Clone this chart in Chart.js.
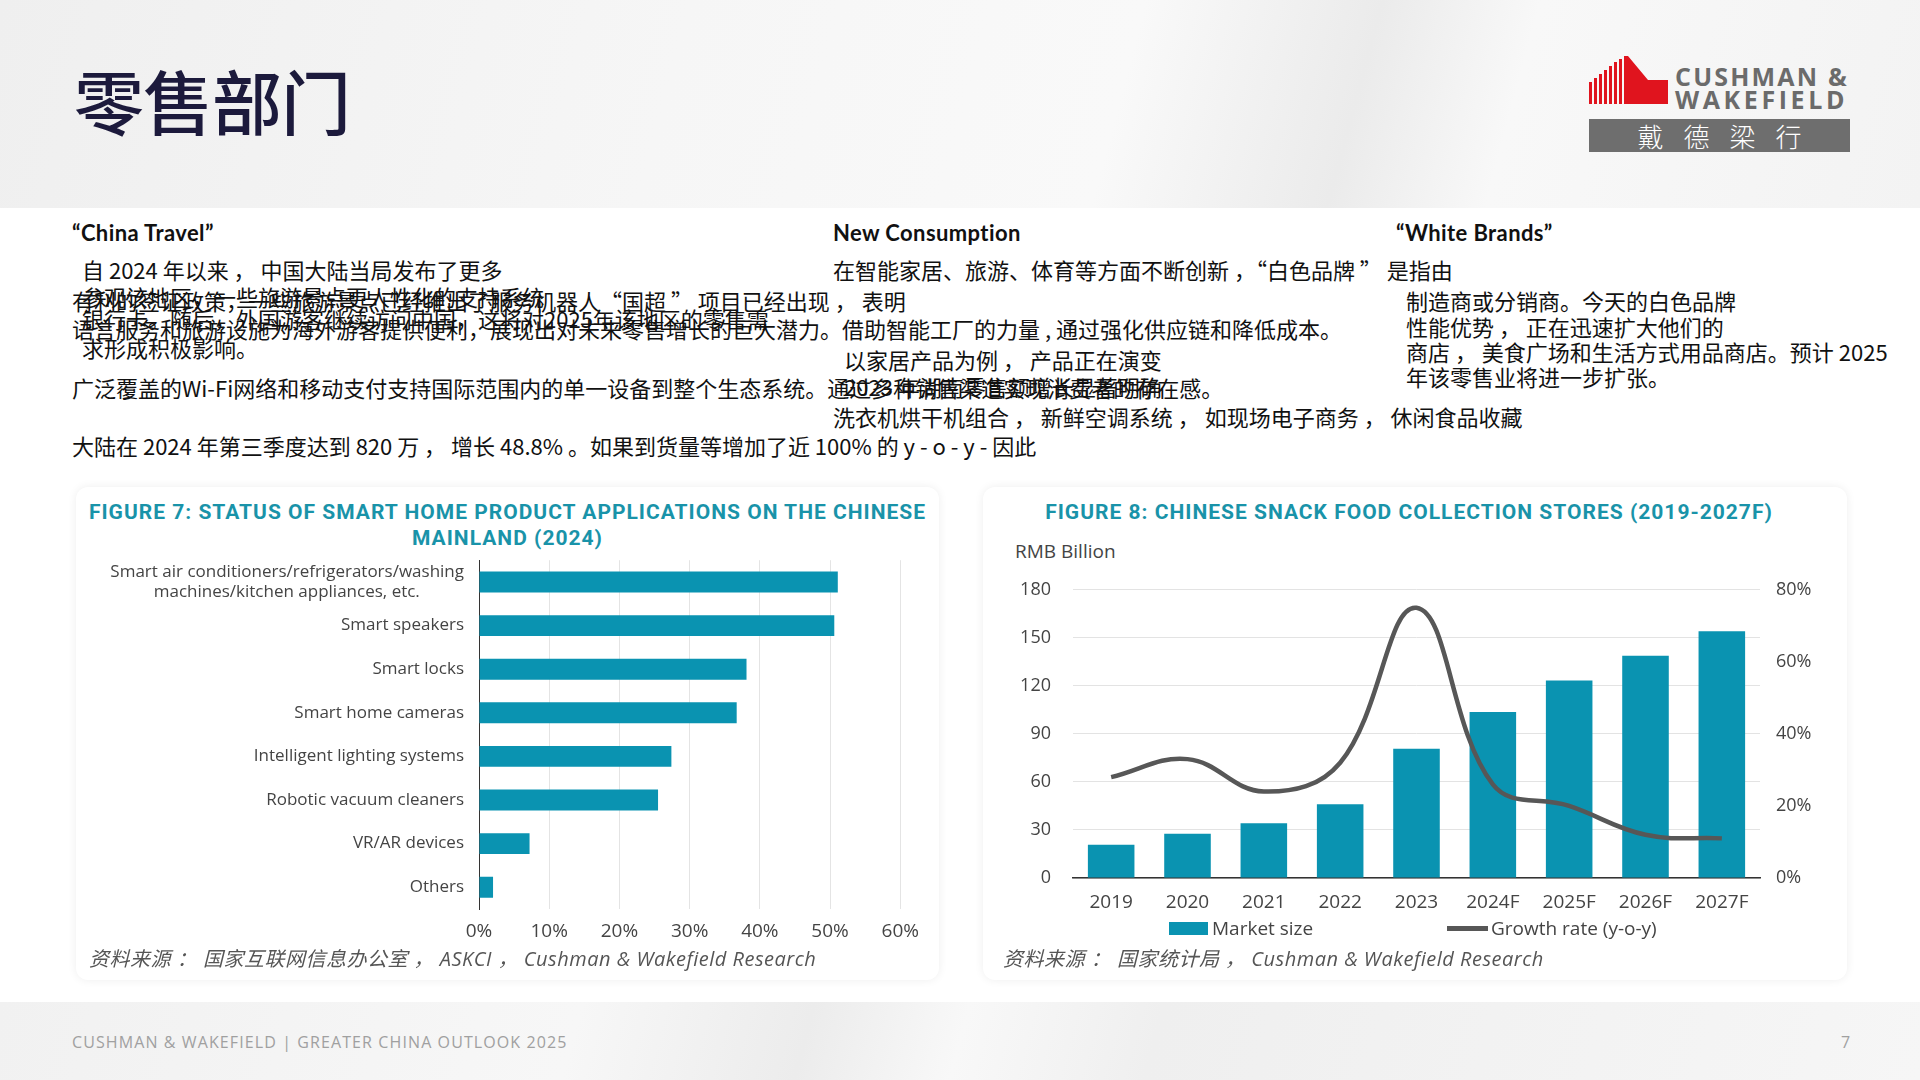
<!DOCTYPE html>
<html lang="zh-CN">
<head>
<meta charset="utf-8">
<title>零售部门</title>
<script src="https://cdn.jsdelivr.net/npm/chart.js@4.4.1/dist/chart.umd.min.js"></script>
<style>
  html, body { margin: 0; padding: 0; }
  body {
    width: 1920px; height: 1080px; position: relative; overflow: hidden;
    background: #fff; color: #111;
    font-family: "Noto Sans CJK SC", "Open Sans", sans-serif;
  }
  .header {
    position: absolute; left: 0; top: 0; width: 1920px; height: 208px;
    background: linear-gradient(105deg, #efefef 0%, #f6f6f6 35%, #f9f9f9 58%, #ebebeb 70%, #f8f8f8 78%, #f3f3f3 100%);
  }
  .footer {
    position: absolute; left: 0; top: 1002px; width: 1920px; height: 78px;
    background: linear-gradient(105deg, #f1f1f1 0%, #f7f7f7 30%, #ececec 42%, #f8f8f8 50%, #efefef 60%, #f6f6f6 100%);
  }
  .page-title {
    position: absolute; left: 74px; top: 62px; font-size: 70px; line-height: 76px;
    font-weight: 500; color: #1c1a3c; letter-spacing: -1px;
  }
  .logo-en {
    position: absolute; left: 1675px; font-family: "Open Sans", sans-serif; font-weight: 700;
    font-size: 25px; line-height: 25px; color: #6b6b6b;
  }
  .logo-cn {
    position: absolute; left: 1589px; top: 119px; width: 261px; height: 33px; background: #6e6e6e;
    color: #fff; font-size: 26px; line-height: 33px; text-align: center; letter-spacing: 20px;
    text-indent: 20px; font-weight: 300;
  }
  .t { position: absolute; font-size: 22px; line-height: 26px; white-space: pre; }
  .h { position: absolute; font-family: Lato, "Open Sans", sans-serif; font-weight: 700;
       font-size: 22px; line-height: 26px; letter-spacing: 0.4px; white-space: pre; }
  .card {
    position: absolute; top: 487px; height: 493px; background: #fff; border-radius: 12px;
    box-shadow: 0 0 10px rgba(0,0,0,0.07);
  }
  .fig-title {
    position: absolute; font-family: Roboto, sans-serif; font-weight: 700; font-size: 21px;
    line-height: 26px; letter-spacing: 1px; color: #1993a9; text-align: center;
  }
  .src {
    position: absolute; top: 946px; font-family: "Open Sans", "Noto Sans CJK SC", sans-serif;
    font-style: italic; font-size: 20px; line-height: 26px; letter-spacing: 0.5px; color: #555; white-space: pre;
  }
  canvas { position: absolute; }
  .unit { position: absolute; left: 1015px; top: 539px; font-family: "Open Sans", sans-serif;
          font-size: 19px; line-height: 24px; color: #444; }
  .lg-box { position: absolute; }
  .lg-text { position: absolute; top: 916px; font-family: "Open Sans", sans-serif; font-size: 19px;
             line-height: 24px; color: #444; white-space: pre; }
  .foot-text { position: absolute; top: 1032px; font-family: "Open Sans", sans-serif; font-size: 16px;
               line-height: 20px; color: #a0a0a0; letter-spacing: 1.1px; }
</style>
</head>
<body>
<div class="header"></div>
<div class="footer"></div>

<div class="page-title">零售部门</div>

<svg style="position:absolute;left:1585px;top:52px" width="90" height="56" viewBox="0 0 90 56">
  <g fill="#e0141e">
    <rect x="4" y="30" width="3" height="22"/>
    <rect x="9" y="26" width="3" height="26"/>
    <rect x="14" y="22" width="3" height="30"/>
    <rect x="19" y="18" width="3" height="34"/>
    <rect x="24" y="14" width="3" height="38"/>
    <rect x="29" y="10" width="3" height="42"/>
    <rect x="34" y="7" width="3" height="45"/>
    <polygon points="39,4 43,4 63,28 83,28 83,52 39,52"/>
  </g>
</svg>
<div class="logo-en" style="top:64px;letter-spacing:2.2px">CUSHMAN &amp;</div>
<div class="logo-en" style="top:87px;letter-spacing:3.6px">WAKEFIELD</div>
<div class="logo-cn">戴德梁行</div>

<!-- column 1 -->
<div class="h" style="left:72px;top:220px">“China Travel”</div>
<div class="t" style="left:82px;top:256px">自 2024 年以来 ， 中国大陆当局发布了更多</div>
<div class="t" style="left:82px;top:283px">参观该地区，一些旅游景点更人性化的支持系统</div>
<div class="t" style="left:72px;top:287px">有利的签证政策，一些旅游景点已经推出了服务机器人“国超 ” 项目已经出现 ， 表明</div>
<div class="t" style="left:82px;top:305px">银行卡。随后，外国游客继续访问中国，这将对2025年该地区的零售需</div>
<div class="t" style="left:72px;top:315px">语言服务和旅游设施为海外游客提供便利，展现出对未来零售增长的巨大潜力。借助智能工厂的力量 , 通过强化供应链和降低成本。</div>
<div class="t" style="left:82px;top:334px">求形成积极影响。</div>
<div class="t" style="left:72px;top:374px">广泛覆盖的Wi-Fi网络和移动支付支持国际范围内的单一设备到整个生态系统。通过多种销售渠道实现消费者的存在感。</div>
<div class="t" style="left:844px;top:373px">2023 年湖南零售额增长显著明确</div>
<div class="t" style="left:72px;top:432px">大陆在 2024 年第三季度达到 820 万 ， 增长 48.8% 。如果到货量等增加了近 100% 的 y - o - y - 因此</div>

<!-- column 2 -->
<div class="h" style="left:833px;top:220px">New Consumption</div>
<div class="t" style="left:833px;top:256px">在智能家居、旅游、体育等方面不断创新 ，“白色品牌 ” 是指由</div>
<div class="t" style="left:844px;top:346px">以家居产品为例 ， 产品正在演变</div>
<div class="t" style="left:833px;top:403px">洗衣机烘干机组合 ， 新鲜空调系统 ， 如现场电子商务 ， 休闲食品收藏</div>

<!-- column 3 -->
<div class="h" style="left:1396px;top:220px">“White Brands”</div>
<div class="t" style="left:1406px;top:287px">制造商或分销商。今天的白色品牌</div>
<div class="t" style="left:1406px;top:313px">性能优势 ， 正在迅速扩大他们的</div>
<div class="t" style="left:1406px;top:338px">商店 ， 美食广场和生活方式用品商店。预计 2025</div>
<div class="t" style="left:1406px;top:363px">年该零售业将进一步扩张。</div>

<!-- figure 7 -->
<div class="card" style="left:76px;width:863px"></div>
<div class="fig-title" style="left:76px;top:499px;width:863px">FIGURE 7: STATUS OF SMART HOME PRODUCT APPLICATIONS ON THE CHINESE<br>MAINLAND (2024)</div>
<canvas id="smartHomeChart" width="840" height="415" style="left:90px;top:535px"></canvas>
<div class="src" style="left:89px">资料来源 ： 国家互联网信息办公室 ， ASKCI ， Cushman &amp; Wakefield Research</div>

<!-- figure 8 -->
<div class="card" style="left:983px;width:864px"></div>
<div class="fig-title" style="left:983px;top:499px;width:852px">FIGURE 8: CHINESE SNACK FOOD COLLECTION STORES (2019-2027F)</div>
<div class="unit">RMB Billion</div>
<canvas id="snackChart" width="840" height="361" style="left:1000px;top:557px"></canvas>
<div class="lg-box" style="left:1169px;top:922px;width:39px;height:13px;background:#0a93b1"></div>
<div class="lg-text" style="left:1212px">Market size</div>
<div class="lg-box" style="left:1447px;top:926px;width:41px;height:5px;background:#575757"></div>
<div class="lg-text" style="left:1491px">Growth rate (y-o-y)</div>
<div class="src" style="left:1003px">资料来源 ： 国家统计局 ， Cushman &amp; Wakefield Research</div>

<div class="foot-text" style="left:72px">CUSHMAN &amp; WAKEFIELD | GREATER CHINA OUTLOOK 2025</div>
<div class="foot-text" style="left:1841px">7</div>

<script>
// Figure 7 data
const smartHomeCategories = [
  ["Smart air conditioners/refrigerators/washing", "machines/kitchen appliances, etc.          "],
  "Smart speakers",
  "Smart locks",
  "Smart home cameras",
  "Intelligent lighting systems",
  "Robotic vacuum cleaners",
  "VR/AR devices",
  "Others",
];
const smartHomeShares = [51.1, 50.6, 38.1, 36.7, 27.4, 25.5, 7.2, 2.0];

// Figure 8 data
const snackYears = ["2019", "2020", "2021", "2022", "2023", "2024F", "2025F", "2026F", "2027F"];
const snackMarketSize = [20.7, 27.6, 34.2, 46, 80.7, 103.7, 123.4, 138.8, 154.1];
const snackGrowth = [28, 33, 24, 32, 75, 26, 20, 12, 11];

const teal = "#0a93b1";

document.addEventListener("DOMContentLoaded", function () {
  initSmartHomeChart();
  initSnackChart();
});

function initSmartHomeChart() {
  const ctx = document.getElementById("smartHomeChart").getContext("2d");
  new Chart(ctx, {
    type: "bar",
    data: {
      labels: smartHomeCategories,
      datasets: [
        {
          data: smartHomeShares,
          backgroundColor: teal,
          barPercentage: 0.48,
          categoryPercentage: 1,
        },
      ],
    },
    options: {
      indexAxis: "y",
      responsive: false,
      animation: false,
      layout: { padding: { top: 0, right: 25, bottom: 0, left: 0 } },
      plugins: {
        legend: { display: false },
        tooltip: { enabled: false },
      },
      scales: {
        x: {
          min: 0,
          max: 60,
          ticks: {
            stepSize: 10,
            callback: (v) => v + "%",
            color: "#444",
            font: { family: "Open Sans", size: 19 },
            padding: 11,
          },
          grid: { color: "#e4e4e4", drawTicks: false },
          border: { display: false },
          afterFit(scale) { scale.height = 41; },
        },
        y: {
          ticks: {
            autoSkip: false,
            color: "#444",
            font: { family: "Open Sans", size: 17 },
            padding: 15,
          },
          grid: { display: false, drawTicks: false },
          border: { color: "#333", width: 1 },
          afterFit(scale) { scale.width = 389; },
        },
      },
    },
  });
}

function initSnackChart() {
  const ctx = document.getElementById("snackChart").getContext("2d");
  new Chart(ctx, {
    type: "bar",
    data: {
      labels: snackYears,
      datasets: [
        {
          type: "line",
          label: "Growth rate (y-o-y)",
          data: snackGrowth,
          yAxisID: "y1",
          borderColor: "#575757",
          borderWidth: 4.5,
          tension: 0.4,
          pointRadius: 0,
          fill: false,
          order: 0,
        },
        {
          type: "bar",
          label: "Market size",
          data: snackMarketSize,
          yAxisID: "y",
          backgroundColor: teal,
          barPercentage: 0.61,
          categoryPercentage: 1,
          order: 1,
        },
      ],
    },
    options: {
      responsive: false,
      animation: false,
      layout: { padding: { top: 0, right: 0, bottom: 0, left: 0 } },
      plugins: {
        legend: { display: false },
        tooltip: { enabled: false },
      },
      scales: {
        x: {
          grid: { display: false, drawTicks: false },
          border: { color: "#333", width: 1.5 },
          ticks: { color: "#444", font: { family: "Open Sans", size: 19 }, padding: 13 },
          afterFit(scale) { scale.height = 40; },
        },
        y: {
          position: "left",
          min: 0,
          max: 180,
          ticks: { stepSize: 30, color: "#444", font: { family: "Open Sans", size: 18 }, padding: 22 },
          grid: { color: "#e3e3e3", drawTicks: false },
          border: { display: false },
          afterFit(scale) { scale.width = 73; },
        },
        y1: {
          position: "right",
          min: 0,
          max: 80,
          ticks: {
            stepSize: 20,
            callback: (v) => v + "%",
            color: "#444",
            font: { family: "Open Sans", size: 18 },
            padding: 16,
          },
          grid: { display: false, drawTicks: false },
          border: { display: false },
          afterFit(scale) { scale.width = 80; },
        },
      },
    },
  });
}
</script>
</body>
</html>
